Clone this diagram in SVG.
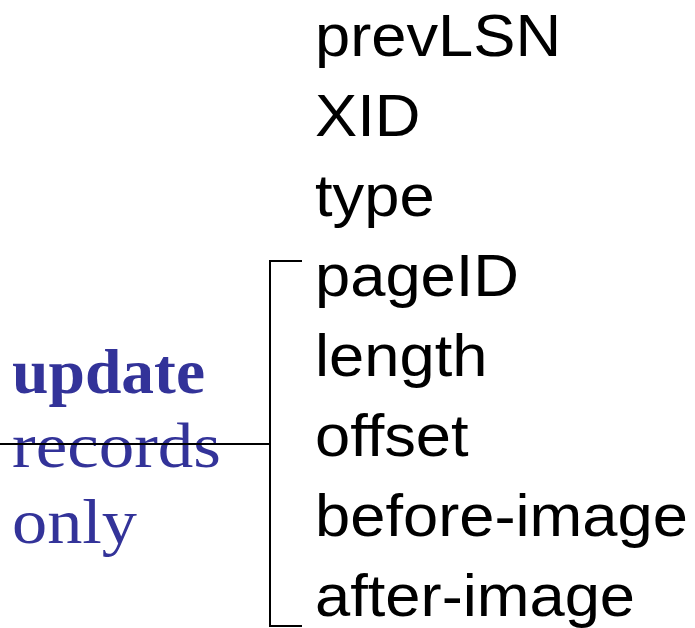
<svg xmlns="http://www.w3.org/2000/svg" width="695" height="628" viewBox="0 0 695 628">
<style>
.f{font-family:"Liberation Sans",Arial,sans-serif;font-size:60px;fill:#000}
.l{font-family:"Liberation Serif","Times New Roman",serif;font-size:64px;fill:#333399}
.b{font-weight:bold}
.ln{stroke:#000;stroke-width:2;fill:none}
</style>
<rect width="695" height="628" fill="#fff"/>
<g id="fields" transform="translate(315,0) scale(1.055,1)">
<g id="f-prevLSN"><text class="f" x="0" y="56">prevLSN</text></g>
<g id="f-XID"><text class="f" x="0" y="136">XID</text></g>
<g id="f-type"><text class="f" x="0" y="216">type</text></g>
<g id="f-pageID"><text class="f" x="0" y="296">pageID</text></g>
<g id="f-length"><text class="f" x="0" y="376">length</text></g>
<g id="f-offset"><text class="f" x="0" y="456">offset</text></g>
<g id="f-before"><text class="f" x="0" y="536">before-image</text></g>
<g id="f-after"><text class="f" x="0" y="616">after-image</text></g>
</g>
<g id="label">
<text class="l b" x="12" y="393" textLength="193" lengthAdjust="spacingAndGlyphs">update</text>
<text class="l" x="12" y="467" textLength="209" lengthAdjust="spacingAndGlyphs">records</text>
<text class="l" x="12" y="543" textLength="125" lengthAdjust="spacingAndGlyphs">only</text>
</g>
<g id="connectors">
<path class="ln" d="M302,261 H270 V626 H302"/>
<path class="ln" d="M0,444 H270"/>
</g>
</svg>
